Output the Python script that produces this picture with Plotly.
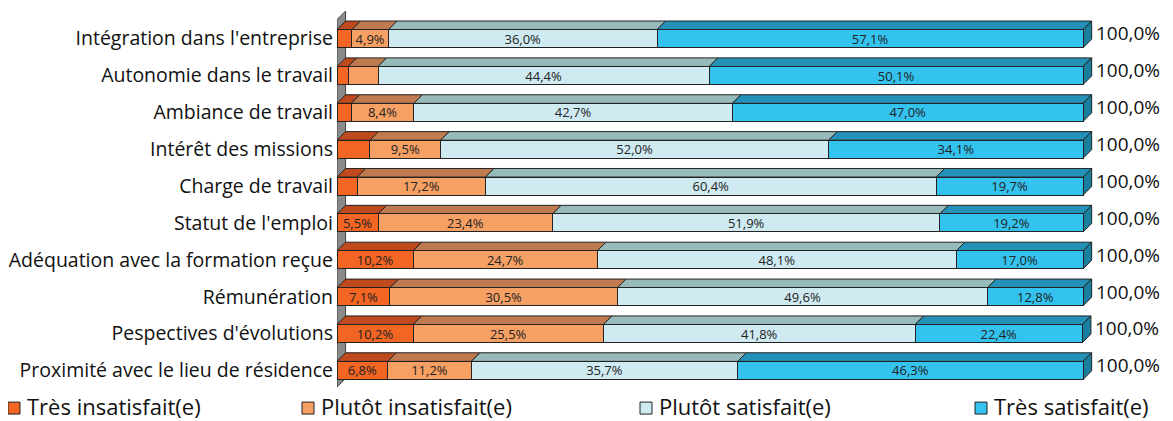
import plotly.graph_objects as go

# Data ##########################################################################################################
categories = [
    "Intégration dans l'entreprise",
    "Autonomie dans le travail",
    "Ambiance de travail",
    "Intérêt des missions",
    "Charge de travail",
    "Statut de l'emploi",
    "Adéquation avec la formation reçue",
    "Rémunération",
    "Pespectives d'évolutions",
    "Proximité avec le lieu de résidence",
]
series_names = ["Très insatisfait(e)", "Plutôt insatisfait(e)", "Plutôt satisfait(e)", "Très satisfait(e)"]
tres_insat = [2.0, 1.5, 1.9, 4.4, 2.7, 5.5, 10.2, 7.1, 10.2, 6.8]
plutot_insat = [4.9, 4.0, 8.4, 9.5, 17.2, 23.4, 24.7, 30.5, 25.5, 11.2]
plutot_sat = [36.0, 44.4, 42.7, 52.0, 60.4, 51.9, 48.1, 49.6, 41.8, 35.7]
tres_sat = [57.1, 50.1, 47.0, 34.1, 19.7, 19.2, 17.0, 12.8, 22.4, 46.3]
totals = ["100,0%"] * 10

# Styles ########################################################################################################
front_colors = ['#F26522', '#F7A064', '#CFEBF1', '#33C3EE']
top_colors = ['#BE4A1E', '#C07A50', '#97BBBA', '#2491B8']
side_color = '#1A7F9E'
edge = '#222222'
FONT = 'Open Sans'

bar_h = 0.49       # bar thickness (category units)
dx = 1.15          # 3D depth along x (percent units)
dy = 0.233         # 3D depth along y (category units)

# the page has an 8px body margin, so the figure is drawn 8px smaller and pixel positions are shifted
OFF = 8
FIG_W, FIG_H = 1173 - OFF, 421 - OFF
L, T, W, H = 337 - OFF, 10.5 - OFF, 761, 376.4
y_range = [9.45, -0.75]


def px_to_paper(px, py):
    # page pixel -> paper coordinates
    return (px - OFF - L) / W, 1 - (py - OFF - T) / H


def fmt(v):
    return f"{v:.1f}".replace('.', ',') + '%'


fig = go.Figure()
ypos = list(range(len(categories)))
all_series = [tres_insat, plutot_insat, plutot_sat, tres_sat]

for name, vals, col in zip(series_names, all_series, front_colors):
    fig.add_trace(go.Bar(
        y=ypos,
        x=vals,
        name=name,
        orientation='h',
        width=bar_h,
        marker=dict(color=col, line=dict(color=edge, width=1)),
        text=[fmt(v) if v >= 4.5 else '' for v in vals],
        textposition='inside',
        insidetextanchor='middle',
        textangle=0,
        constraintext='none',
        textfont=dict(family=FONT, size=13, color='#222222'),
        showlegend=False,
        hoverinfo='skip',
    ))

shapes = []
# Left wall
shapes.append(dict(
    type='path', xref='x', yref='y', layer='below',
    path=f"M 0 {y_range[0]} L 0 {y_range[1] + dy} L {dx} {y_range[1]} L {dx} {y_range[0] - dy} Z",
    fillcolor='#8A8A8A', line=dict(color='#444444', width=1),
))

# Top faces and right side faces
for i in ypos:
    yt = i - bar_h / 2
    yb = i + bar_h / 2
    x0 = 0
    for vals, tc in zip(all_series, top_colors):
        x1 = x0 + vals[i]
        shapes.append(dict(
            type='path', xref='x', yref='y', layer='below',
            path=f"M {x0} {yt} L {x1} {yt} L {x1 + dx} {yt - dy} L {x0 + dx} {yt - dy} Z",
            fillcolor=tc, line=dict(color=edge, width=1),
        ))
        x0 = x1
    shapes.append(dict(
        type='path', xref='x', yref='y', layer='below',
        path=f"M {x0} {yt} L {x0 + dx} {yt - dy} L {x0 + dx} {yb - dy} L {x0} {yb} Z",
        fillcolor=side_color, line=dict(color=edge, width=1),
    ))

annotations = []
# Totals
for i in ypos:
    end = sum(s[i] for s in all_series)
    annotations.append(dict(
        x=end + dx + 0.3, y=i - 0.14, xref='x', yref='y',
        text=totals[i], showarrow=False, xanchor='left', yanchor='middle',
        font=dict(family=FONT, size=19, color='#111111'),
    ))

# Legend (drawn by hand to match the original placement)
legend_px = [8, 302, 640, 975]
for name, col, lx in zip(series_names, front_colors, legend_px):
    x0p, y0p = px_to_paper(lx, 414)
    x1p, y1p = px_to_paper(lx + 12, 402)
    shapes.append(dict(
        type='rect', xref='paper', yref='paper',
        x0=x0p, y0=y0p, x1=x1p, y1=y1p,
        fillcolor=col, line=dict(color=edge, width=1),
    ))
    tx, ty = px_to_paper(lx + 17, 406)
    annotations.append(dict(
        x=tx, y=ty, xref='paper', yref='paper',
        text=name, showarrow=False, xanchor='left', yanchor='middle',
        font=dict(family=FONT, size=22, color='#111111'),
    ))

fig.update_layout(
    barmode='stack',
    width=FIG_W,
    height=FIG_H,
    margin=dict(l=L, r=FIG_W - L - W, t=T, b=FIG_H - T - H, pad=0),
    paper_bgcolor='white',
    plot_bgcolor='white',
    xaxis=dict(range=[0, 102], visible=False, fixedrange=True, automargin=False),
    yaxis=dict(
        range=y_range,
        tickmode='array',
        tickvals=ypos,
        ticktext=categories,
        showgrid=False,
        zeroline=False,
        showline=False,
        ticks='',
        automargin=False,
        ticklabelstandoff=3,
        tickfont=dict(family=FONT, size=19.5, color='#111111'),
    ),
    shapes=shapes,
    annotations=annotations,
)

fig.write_html("out.html")
